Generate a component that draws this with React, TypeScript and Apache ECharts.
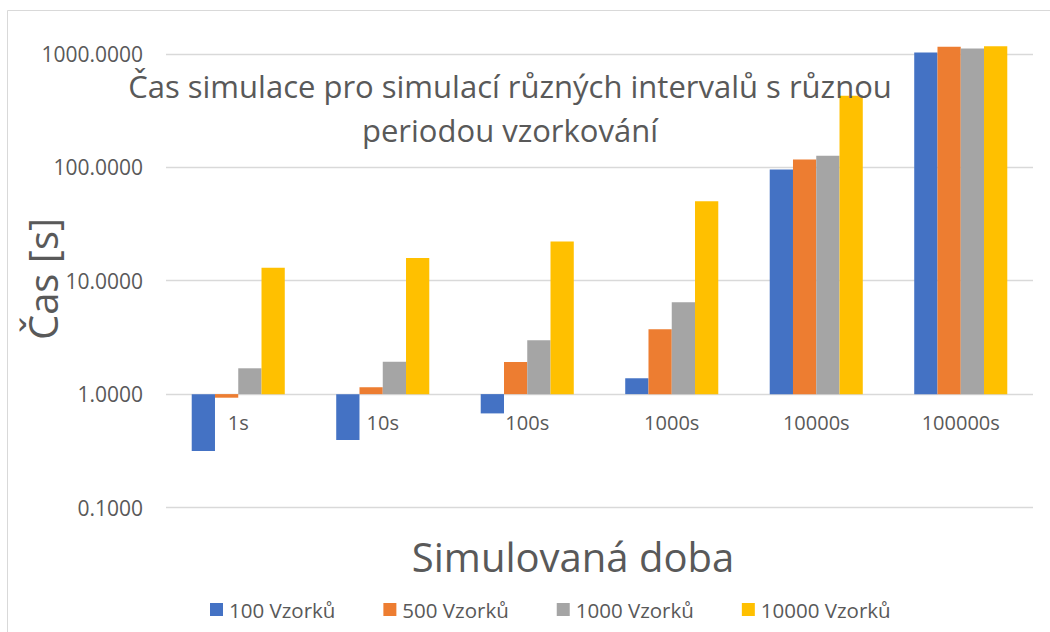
import React, { useEffect, useRef } from "react";
import * as echarts from "echarts";

const categories = ["1s", "10s", "100s", "1000s", "10000s", "100000s"];
const seriesNames = ["100 Vzorků", "500 Vzorků", "1000 Vzorků", "10000 Vzorků"];
const s100 = [0.315, 0.393, 0.676, 1.38, 96, 1031];
const s500 = [0.93, 1.15, 1.92, 3.73, 117.6, 1157];
const s1000 = [1.69, 1.93, 2.98, 6.45, 126.6, 1118];
const s10000 = [13.0, 15.9, 22.2, 50.2, 429, 1172];
const colors = ["#4472C4", "#ED7D31", "#A5A5A5", "#FFC000"];
const titleText = "Čas simulace pro simulací různých intervalů s různou\nperiodou vzorkování";
const yTitle = "Čas [s]";
const xTitle = "Simulovaná doba";

const FONT = "'Open Sans', 'Noto Sans', sans-serif";

export default function App() {
  const ref = useRef<HTMLDivElement>(null);
  useEffect(() => {
    if (!ref.current) return;
    const chart = echarts.init(ref.current, null, { renderer: "svg" });
    const allData = [s100, s500, s1000, s10000];
    chart.setOption({
      animation: false,
      backgroundColor: "#ffffff",
      textStyle: { fontFamily: FONT },
      grid: { left: 166, right: 17, top: 54, bottom: 124.5, containLabel: false },
      title: {
        text: titleText,
        left: 505,
        top: 59,
        textAlign: "center",
        textStyle: {
          fontFamily: FONT,
          fontWeight: "normal",
          fontSize: 31,
          color: "#595959",
          lineHeight: 44,
        },
      },
      legend: {
        left: 205,
        top: 594,
        icon: "rect",
        itemWidth: 13,
        itemHeight: 13,
        itemGap: 48,
        data: seriesNames,
        textStyle: { fontFamily: FONT, fontSize: 20.5, color: "#595959", padding: [0, 0, 0, 1] },
      },
      xAxis: {
        type: "category",
        data: categories,
        axisLine: { show: false, onZero: false },
        axisTick: { show: false },
        splitLine: { show: false },
        axisLabel: { margin: -95, fontFamily: FONT, fontSize: 20, color: "#595959" },
      },
      yAxis: {
        type: "log",
        logBase: 10,
        min: 0.1,
        max: 1000,
        axisLine: { show: false },
        axisTick: { show: false },
        minorTick: { show: false },
        splitLine: { show: true, lineStyle: { color: "#d9d9d9", width: 1.3 } },
        axisLabel: {
          margin: 23,
          fontFamily: FONT,
          fontSize: 21,
          color: "#595959",
          formatter: (v: number) => Number(v).toFixed(4),
        },
      },
      series: allData.map((d, i) => ({
        name: seriesNames[i],
        type: "bar",
        data: d,
        clip: false,
        barGap: "0%",
        barCategoryGap: "35.6%",
        itemStyle: { color: colors[i] },
      })),
      graphic: [
        {
          type: "rect",
          silent: true,
          shape: { x: 7.5, y: 10.5, width: 1200, height: 800 },
          style: { fill: "none", stroke: "#d9d9d9", lineWidth: 1 },
          z: -10,
        },
        {
          type: "text",
          x: 42,
          y: 279,
          rotation: Math.PI / 2,
          style: {
            text: yTitle,
            font: `40px ${FONT}`,
            fill: "#595959",
            textAlign: "center",
            textVerticalAlign: "middle",
          },
        },
        {
          type: "text",
          x: 573,
          y: 556,
          style: {
            text: xTitle,
            font: `40px ${FONT}`,
            fill: "#595959",
            textAlign: "center",
            textVerticalAlign: "middle",
          },
        },
      ],
    });
    return () => chart.dispose();
  }, []);
  return (
    <div
      ref={ref}
      style={{ position: "fixed", left: 0, top: 0, width: 1050, height: 632 }}
    />
  );
}
